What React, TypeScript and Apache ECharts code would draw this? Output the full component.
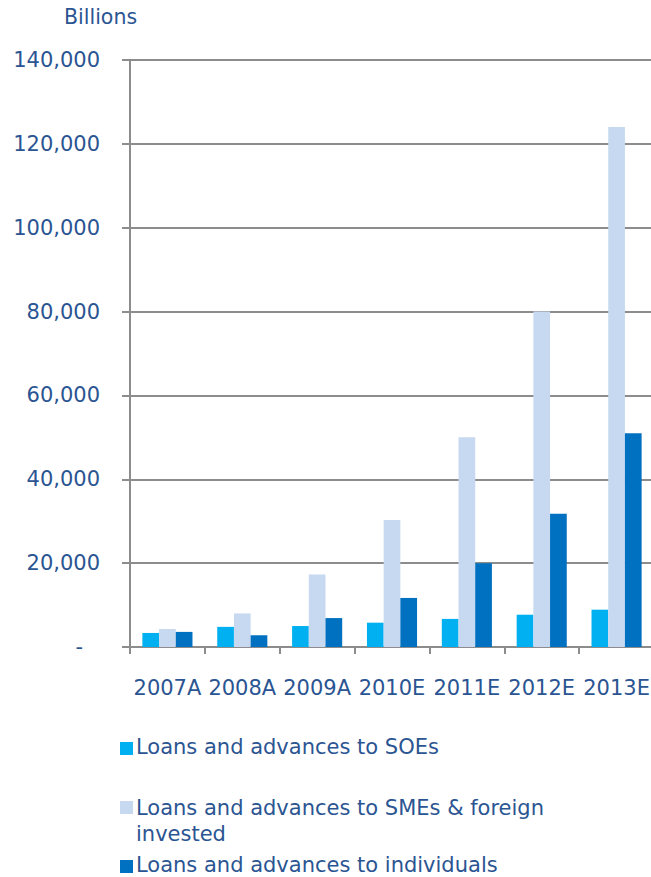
import React, { useEffect, useRef } from "react";
import * as echarts from "echarts";

const categories = ["2007A", "2008A", "2009A", "2010E", "2011E", "2012E", "2013E"];
const soeValues = [3350, 4800, 5000, 5800, 6700, 7700, 8900];
const smeValues = [4300, 8000, 17300, 30300, 50000, 80000, 124000];
const individualValues = [3600, 2800, 6900, 11700, 20000, 31800, 51000];
const seriesNames = [
  "Loans and advances to SOEs",
  "Loans and advances to SMEs & foreign invested",
  "Loans and advances to individuals",
];
const colors = ["#00b0f0", "#c6d9f1", "#0070c0"];
const textColor = "#2b5592";
const axisGray = "#8c8c8c";
const font = "DejaVu Sans";

export default function App() {
  const ref = useRef<HTMLDivElement>(null);
  useEffect(() => {
    if (!ref.current) return;
    const chart = echarts.init(ref.current, undefined, { renderer: "svg" });
    const fs = 21;
    chart.setOption({
      animation: false,
      grid: { left: 130, right: 6, top: 60, bottom: 230, containLabel: false },
      xAxis: {
        type: "category",
        data: categories,
        axisLine: { show: true, lineStyle: { color: axisGray, width: 2 } },
        axisTick: { show: true, length: 7, interval: 0, lineStyle: { color: axisGray, width: 2 } },
        axisLabel: { color: textColor, fontFamily: font, fontSize: fs, margin: 30, interval: 0 },
      },
      yAxis: {
        type: "value",
        min: 0,
        max: 140000,
        interval: 20000,
        axisLine: { show: true, lineStyle: { color: axisGray, width: 2 } },
        axisTick: { show: true, length: 8, lineStyle: { color: axisGray, width: 2 } },
        splitLine: { show: true, lineStyle: { color: axisGray, width: 2 } },
        axisLabel: {
          color: textColor,
          fontFamily: font,
          fontSize: fs,
          margin: 30,
          formatter: (v: number) =>
            v === 0 ? "{d|-}" : v.toLocaleString("en-US"),
          rich: { d: { color: textColor, fontFamily: font, fontSize: fs, padding: [0, 17, 0, 0] } },
        },
      },
      graphic: [
        { type: "text", left: 64, top: 6, style: { text: "Billions", fill: textColor, font: `20.5px '${font}'` } },
        { type: "rect", shape: { x: 120, y: 742, width: 13, height: 13 }, style: { fill: colors[0] } },
        { type: "text", left: 136, top: 736, style: { text: seriesNames[0], fill: textColor, font: `${fs}px '${font}'` } },
        { type: "rect", shape: { x: 120, y: 801, width: 13, height: 13 }, style: { fill: colors[1] } },
        { type: "text", left: 136, top: 795, style: { text: "Loans and advances to SMEs & foreign\ninvested", fill: textColor, font: `${fs}px '${font}'`, lineHeight: 26 } },
        { type: "rect", shape: { x: 120, y: 860, width: 13, height: 13 }, style: { fill: colors[2] } },
        { type: "text", left: 136, top: 854, style: { text: seriesNames[2], fill: textColor, font: `${fs}px '${font}'` } },
      ],
      series: [soeValues, smeValues, individualValues].map((d, i) => ({
        name: seriesNames[i],
        type: "bar",
        data: d,
        barWidth: 16.7,
        barGap: "0%",
        itemStyle: { color: colors[i] },
      })),
    });
    return () => chart.dispose();
  }, []);
  return (
    <div style={{ width: 651, height: 877, position: "absolute", left: 0, top: 0, overflow: "hidden" }}>
      <div ref={ref} style={{ width: 660, height: 877 }} />
    </div>
  );
}
